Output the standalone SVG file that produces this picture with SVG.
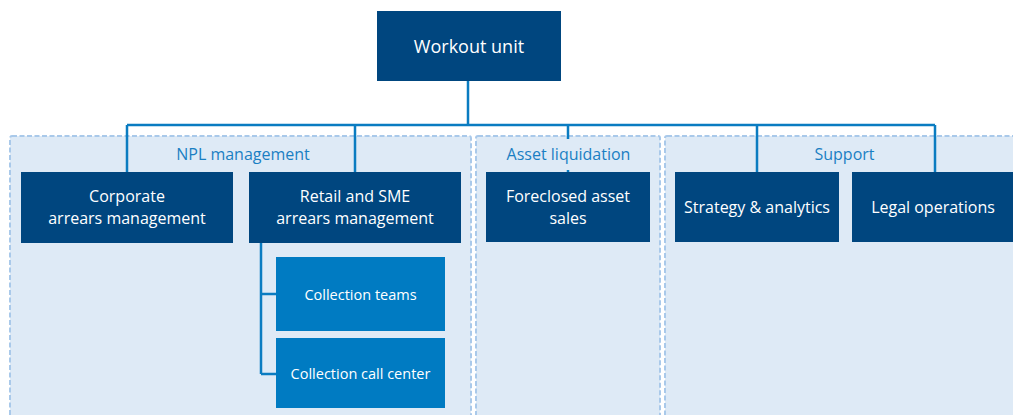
<svg xmlns="http://www.w3.org/2000/svg" width="1013" height="415" viewBox="0 0 1013 415">
  <style>
    .panel { fill: #deeaf6; stroke: #a9c9ea; stroke-width: 2; stroke-dasharray: 5 2.5; }
    .panel-label { font-family: "Open Sans", "Liberation Sans", sans-serif; font-size: 16px; fill: #1a7fc3; text-anchor: middle; }
    .box { fill: #00467f; }
    .sub { fill: #007bc2; }
    .txt { font-family: "Open Sans", "Liberation Sans", sans-serif; font-size: 16px; fill: #ffffff; text-anchor: middle; }
    .txt-sm { font-family: "Open Sans", "Liberation Sans", sans-serif; font-size: 14.5px; fill: #ffffff; text-anchor: middle; }
    .conn { fill: none; stroke: #0a7cc1; stroke-width: 2.5; }
  </style>
  <rect width="1013" height="415" fill="#ffffff"/>

  <!-- division panels -->
  <g id="panels">
    <rect class="panel" x="10" y="136" width="461" height="300" rx="2"/>
    <rect class="panel" x="476" y="136" width="184" height="300" rx="2"/>
    <rect class="panel" x="665" y="136" width="360" height="300" rx="2"/>
  </g>

  <!-- connectors -->
  <g id="connectors">
    <path class="conn" d="M468 81 V125 M127 125 H935 M127 125 V172 M355 125 V172 M568 125 V172 M757 125 V172 M935 125 V172"/>
    <path class="conn" d="M261 242 V374 M261 294 H276 M261 374 H276"/>
  </g>

  <!-- panel titles -->
  <g id="panel-titles">
    <text class="panel-label" x="243" y="160">NPL management</text>
    <rect x="480" y="139" width="176" height="31" fill="#deeaf6"/>
    <text class="panel-label" x="568.5" y="160">Asset liquidation</text>
    <text class="panel-label" x="844.5" y="160">Support</text>
  </g>

  <g id="workout-unit">
    <rect class="box" x="377" y="11" width="184" height="70"/>
    <text class="txt" x="469" y="52.5" style="font-size:18px">Workout unit</text>
  </g>

  <g id="corporate-arrears">
    <rect class="box" x="21" y="172" width="212" height="71"/>
    <text class="txt" x="127" y="202">Corporate</text>
    <text class="txt" x="127" y="224">arrears management</text>
  </g>

  <g id="retail-sme-arrears">
    <rect class="box" x="249" y="172" width="212" height="71"/>
    <text class="txt" x="355" y="202">Retail and SME</text>
    <text class="txt" x="355" y="224">arrears management</text>
  </g>

  <g id="collection-teams">
    <rect class="sub" x="276" y="257" width="169" height="74"/>
    <text class="txt-sm" x="360.5" y="300">Collection teams</text>
  </g>

  <g id="collection-call-center">
    <rect class="sub" x="276" y="338" width="169" height="70"/>
    <text class="txt-sm" x="360.5" y="379">Collection call center</text>
  </g>

  <g id="foreclosed-asset-sales">
    <rect class="box" x="486" y="172" width="164" height="70"/>
    <text class="txt" x="568" y="202">Foreclosed asset</text>
    <text class="txt" x="568" y="224">sales</text>
  </g>

  <g id="strategy-analytics">
    <rect class="box" x="675" y="172" width="164" height="70"/>
    <text class="txt" x="757" y="213">Strategy &amp; analytics</text>
  </g>

  <g id="legal-operations">
    <rect class="box" x="852" y="172" width="162" height="70"/>
    <text class="txt" x="933" y="213">Legal operations</text>
  </g>
</svg>
